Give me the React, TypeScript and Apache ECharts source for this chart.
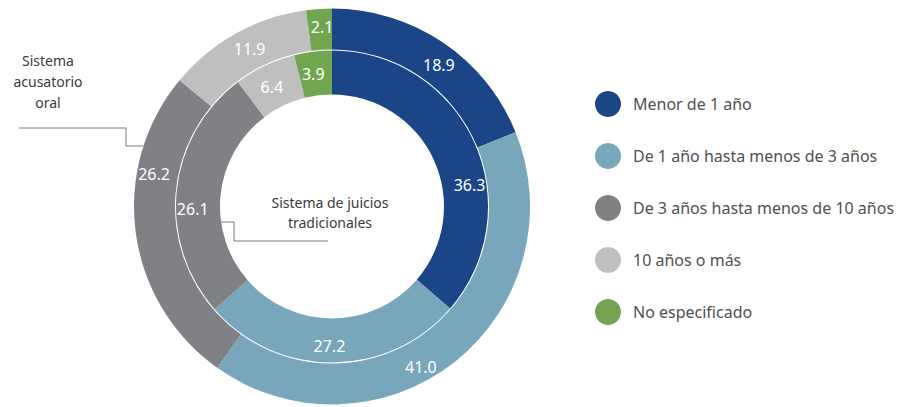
import React, { useEffect, useRef } from "react";
import * as echarts from "echarts";

const categories = [
  "Menor de 1 año",
  "De 1 año hasta menos de 3 años",
  "De 3 años hasta menos de 10 años",
  "10 años o más",
  "No especificado",
];
const outerValues = [18.9, 41.0, 26.2, 11.9, 2.1]; // Sistema acusatorio oral
const innerValues = [36.3, 27.2, 26.1, 6.4, 3.9]; // Sistema de juicios tradicionales
const colors = ["#1a4587", "#78a7bb", "#808185", "#bfbfbf", "#72a550"];

const FONT = "'Noto Sans', 'Open Sans', sans-serif";

// small per-label nudges to mimic the original label placement
const labelNudges: Record<number, [number, number][]> = {
  0: [[6, 8], [-23, 19], [1, -56], [5, 0], [2, 1]],
  1: [[13, 36], [-3, 3], [-3, 16], [-1, 4], [-2, 3]],
};

export default function App() {
  const ref = useRef<HTMLDivElement>(null);
  useEffect(() => {
    if (!ref.current) return;
    const chart = echarts.init(ref.current, undefined, { renderer: "svg" });
    const mk = (vals: number[]) =>
      vals.map((v, i) => ({ name: categories[i], value: v, itemStyle: { color: colors[i] } }));
    const labelCfg = {
      show: true,
      position: "inside",
      color: "#ffffff",
      fontSize: 16,
      fontFamily: FONT,
      formatter: (p: any) => p.value.toFixed(1),
    };
    const layout = (p: any) => {
      const n = labelNudges[p.seriesIndex]?.[p.dataIndex] || [0, 0];
      return { dx: n[0], dy: n[1] };
    };
    chart.setOption({
      animation: false,
      legend: {
        orient: "vertical",
        left: 590,
        top: 86,
        icon: "circle",
        itemWidth: 26,
        itemHeight: 26,
        itemGap: 26,
        selectedMode: false,
        textStyle: { color: "#505050", fontSize: 16, fontFamily: FONT, padding: [0, 0, 0, 7] },
        data: categories,
      },
      graphic: [
        {
          type: "text",
          x: 48,
          y: 50,
          style: {
            text: "Sistema\nacusatorio\noral",
            align: "center",
            fill: "#3a3a3a",
            font: `14px ${FONT}`,
            lineHeight: 21,
          },
        },
        {
          type: "polyline",
          shape: { points: [[19, 128], [126, 128], [126, 146], [143, 146]] },
          style: { stroke: "#7a7a7a", lineWidth: 1, fill: null },
        },
        {
          type: "text",
          x: 330,
          y: 192,
          style: {
            text: "Sistema de juicios\ntradicionales",
            align: "center",
            fill: "#3a3a3a",
            font: `14px ${FONT}`,
            lineHeight: 20,
          },
        },
        {
          type: "polyline",
          shape: { points: [[220, 222], [234, 222], [234, 241], [328, 241]] },
          style: { stroke: "#7a7a7a", lineWidth: 1, fill: null },
        },
      ],
      series: [
        {
          type: "pie",
          center: [332, 206.5],
          radius: [157, 198],
          startAngle: 90,
          clockwise: true,
          label: labelCfg,
          labelLine: { show: false },
          labelLayout: layout,
          emphasis: { disabled: true },
          data: mk(outerValues),
        },
        {
          type: "pie",
          center: [332, 206.5],
          radius: [112, 156],
          startAngle: 90,
          clockwise: true,
          label: labelCfg,
          labelLine: { show: false },
          labelLayout: layout,
          emphasis: { disabled: true },
          data: mk(innerValues),
        },
      ],
    });
    return () => chart.dispose();
  }, []);
  return <div ref={ref} style={{ width: 909, height: 407, position: "absolute", left: 0, top: 0 }} />;
}
